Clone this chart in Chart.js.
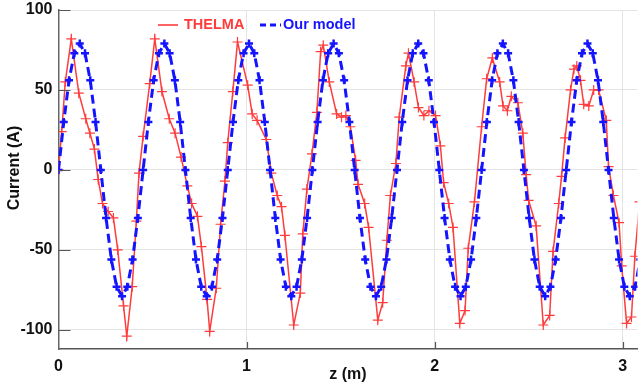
<!DOCTYPE html>
<html><head><meta charset="utf-8">
<script src="https://cdn.jsdelivr.net/npm/chart.js@4.4.0/dist/chart.umd.min.js"></script>
<style>html,body{margin:0;padding:0;background:#fff;}canvas{display:block;}</style>
</head><body>
<canvas id="c" width="644" height="387"></canvas>
<script>
const seriesNames = ['THELMA', 'Our model'];
const xTitle = 'z (m)';
const yTitle = 'Current (A)';
const xTicks = [0, 1, 2, 3];
const yTicks = [-100, -50, 0, 50, 100];

const thelmaZ = [0,0.017,0.036,0.068,0.108,0.145,0.167,0.191,0.211,0.234,0.264,0.292,0.315,0.346,0.363,0.392,0.414,0.428,0.45,0.485,0.512,
0.55,0.589,0.62,0.652,0.685,0.708,0.739,0.76,0.79,0.804,0.839,0.862,0.885,0.9,0.927,0.952,
1.006,1.03,1.056,1.105,1.132,1.163,1.186,1.204,1.251,1.286,1.299,1.321,1.348,1.374,1.394,1.408,
1.44,1.479,1.505,1.528,1.552,1.58,1.593,1.628,1.649,1.698,1.724,1.746,1.765,1.794,1.812,1.847,1.861,
1.891,1.914,1.943,1.97,2.005,2.031,2.048,2.075,2.098,2.134,2.162,2.179,2.212,2.25,2.277,2.307,
2.346,2.364,2.387,2.408,2.443,2.469,2.487,2.5,
2.54,2.578,2.612,2.63,2.66,2.675,2.694,2.723,2.741,2.756,2.776,2.793,2.82,2.846,2.872,2.913,2.925,2.951,2.981,2.995,3.021,3.047,3.065,3.09];
const thelmaI = [0,24,55,82,48,32,23,13,-6,-21,-26,-30,-50,-85,-104,-73,-32,-2,21,54,82,
49,32,23,8,-10,-21,-29,-48,-81,-101,-74,-34,-7,17,49,80,
53,35,31,19,-2,-16,-23,-41,-97,-77,-40,-12,10,36,74,78,
55,35,33,34,27,6,-9,-21,-36,-94,-83,-44,-16,4,33,65,73,
55,39,34,37,34,15,-8,-21,-36,-96,-88,-49,-20,27,57,70,
55,40,37,46,42,23,-3,-19,
-35,-97,-91,-51,-21,-4,20,50,63,65,56,41,40,50,50,31,2,-16,-33,-60,-96,-92,-54,-20];

const modelZ = [0,0.028,0.056,0.084,0.113,0.141,0.169,0.197,0.225,0.253,0.281,0.309,0.338,0.366,0.394,0.422,
0.45,0.478,0.506,0.534,0.563,0.591,0.619,0.647,0.675,0.703,0.731,0.759,0.788,0.816,0.844,0.872,
0.9,0.928,0.956,0.984,1.013,1.041,1.069,1.097,1.125,1.153,1.181,1.209,1.238,1.266,1.294,1.322,
1.35,1.378,1.406,1.434,1.463,1.491,1.519,1.547,1.575,1.603,1.631,1.659,1.688,1.716,1.744,1.772,
1.8,1.828,1.856,1.884,1.913,1.941,1.969,1.997,2.025,2.053,2.081,2.109,2.138,2.166,2.194,2.222,
2.25,2.278,2.306,2.334,2.363,2.391,2.419,2.447,2.475,2.503,2.531,2.559,2.588,2.616,2.644,2.672,
2.7,2.728,2.756,2.784,2.813,2.841,2.869,2.897,2.925,2.953,2.981,3.009,3.038,3.066,3.094,3.122];
const modelI = [0,30,56,73,79,73,56,30,0,-30,-56,-73,-79,-73,-56,-30,
0,30,56,73,79,73,56,30,0,-30,-56,-73,-79,-73,-56,-30,
0,30,56,73,79,73,56,30,0,-30,-56,-73,-79,-73,-56,-30,
0,30,56,73,79,73,56,30,0,-30,-56,-73,-79,-73,-56,-30,
0,30,56,73,79,73,56,30,0,-30,-56,-73,-79,-73,-56,-30,
0,30,56,73,79,73,56,30,0,-30,-56,-73,-79,-73,-56,-30,
0,30,56,73,79,73,56,30,0,-30,-56,-73,-79,-73,-56,-30];

const RED = '#ff3c3c';
const BLUE = '#1414ff';
const FONT = '"Liberation Sans", Arial, sans-serif';

const toPts = (xs, ys) => xs.map((x, i) => ({x: x, y: ys[i]}));

const decor = {
  id: 'decor',
  afterDraw(chart) {
    const ctx = chart.ctx;
    const xs = chart.scales.x, ys = chart.scales.y;
    const a = chart.chartArea;
    ctx.save();
    ctx.strokeStyle = '#555';
    ctx.lineWidth = 1.2;
    ctx.beginPath();
    yTicks.forEach(v => {
      const py = Math.round(ys.getPixelForValue(v)) + 0.5;
      ctx.moveTo(a.left, py); ctx.lineTo(a.left + 12, py);
    });
    xTicks.forEach(v => {
      if (v === 0) return;
      const px = Math.round(xs.getPixelForValue(v)) + 0.5;
      ctx.moveTo(px, a.bottom); ctx.lineTo(px, a.bottom - 7);
    });
    ctx.stroke();
    ctx.fillStyle = '#111';
    ctx.font = 'bold 16px ' + FONT;
    ctx.textAlign = 'center';
    ctx.textBaseline = 'middle';
    ctx.fillText(xTitle, 348, 375);
    ctx.translate(15, 168);
    ctx.rotate(-Math.PI / 2);
    ctx.fillText(yTitle, 0, 0);
    ctx.restore();
    ctx.save();
    ctx.font = 'bold 14.5px ' + FONT;
    ctx.textBaseline = 'middle';
    ctx.textAlign = 'left';
    ctx.strokeStyle = RED; ctx.lineWidth = 1.6;
    ctx.beginPath(); ctx.moveTo(158, 25); ctx.lineTo(178, 25); ctx.stroke();
    ctx.fillStyle = RED; ctx.fillText(seriesNames[0], 184, 25);
    ctx.strokeStyle = BLUE; ctx.lineWidth = 3;
    ctx.setLineDash([6, 4]);
    ctx.beginPath(); ctx.moveTo(260, 25); ctx.lineTo(281, 25); ctx.stroke();
    ctx.setLineDash([]);
    ctx.fillStyle = BLUE; ctx.fillText(seriesNames[1], 283, 25);
    ctx.restore();
  }
};

new Chart(document.getElementById('c'), {
  type: 'line',
  data: {
    datasets: [
      {
        label: seriesNames[0], data: toPts(thelmaZ, thelmaI), order: 1,
        borderColor: RED, borderWidth: 1.5, tension: 0,
        pointStyle: 'cross', pointRadius: 5, pointBorderWidth: 1.2,
        pointBorderColor: RED, pointBackgroundColor: RED
      },
      {
        label: seriesNames[1], data: toPts(modelZ, modelI), order: 0,
        borderColor: BLUE, borderWidth: 3, borderDash: [9, 5], tension: 0,
        pointStyle: 'cross', pointRadius: 4, pointBorderWidth: 2.5,
        pointBorderColor: BLUE, pointBackgroundColor: BLUE
      }
    ]
  },
  options: {
    responsive: false,
    animation: false,
    devicePixelRatio: 1,
    layout: {padding: {top: 10, right: 0, left: 0, bottom: 0}},
    plugins: {legend: {display: false}, tooltip: {enabled: false}},
    scales: {
      x: {
        type: 'linear', min: 0, max: 3.079,
        afterBuildTicks: s => { s.ticks = xTicks.map(v => ({value: v})); },
        afterFit: s => { s.height = 38; s.paddingLeft = 0; s.paddingRight = 0; },
        grid: {color: '#e4e4e4', lineWidth: 1, drawTicks: false},
        border: {display: true, color: '#555', width: 1.5},
        ticks: {padding: 8, color: '#111', maxRotation: 0, autoSkip: false,
                font: {family: FONT, size: 16, weight: 'bold'}}
      },
      y: {
        type: 'linear', min: -112, max: 100,
        afterBuildTicks: s => { s.ticks = yTicks.map(v => ({value: v})); },
        afterFit: s => { s.width = 58.5; s.paddingTop = 0; s.paddingBottom = 0; },
        grid: {color: '#e4e4e4', lineWidth: 1, drawTicks: false},
        border: {display: true, color: '#666', width: 1.5},
        ticks: {padding: 6, color: '#111',
                font: {family: FONT, size: 16, weight: 'bold'}}
      }
    }
  },
  plugins: [decor]
});
</script>
</body></html>
